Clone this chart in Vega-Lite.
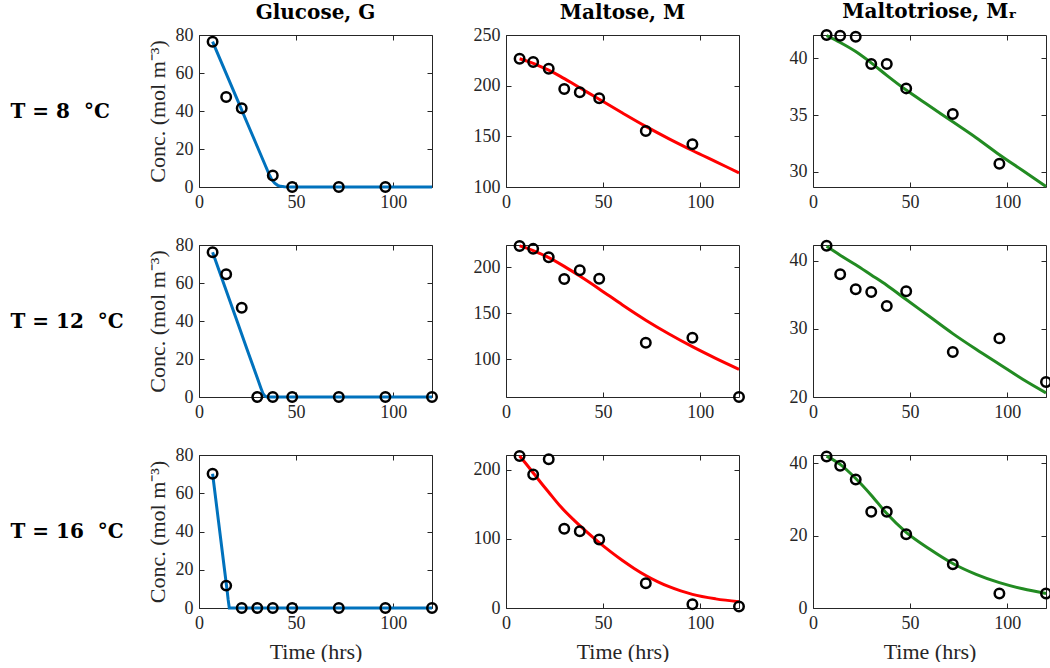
{
"$schema": "https://vega.github.io/schema/vega-lite/v6.json",
"padding": {"left": 10, "top": 2, "right": 0, "bottom": 0},
"background": "white",
"datasets": {
"curves": [
{"T":8,"s":"G","t":7,"c":76.5},{"T":8,"s":"G","t":10,"c":69.3},{"T":8,"s":"G","t":15,"c":57.3},{"T":8,"s":"G","t":20,"c":45.3},{"T":8,"s":"G","t":25,"c":33.3},{"T":8,"s":"G","t":30,"c":21.3},{"T":8,"s":"G","t":34,"c":11.7},{"T":8,"s":"G","t":36,"c":6.9},{"T":8,"s":"G","t":37.5,"c":3.9},{"T":8,"s":"G","t":39,"c":2.0},{"T":8,"s":"G","t":40.5,"c":0.9},{"T":8,"s":"G","t":42,"c":0.35},{"T":8,"s":"G","t":44,"c":0.1},{"T":8,"s":"G","t":47,"c":0},{"T":8,"s":"G","t":120,"c":0},
{"T":12,"s":"G","t":7,"c":76.2},{"T":12,"s":"G","t":15,"c":53.2},{"T":12,"s":"G","t":20,"c":38.8},{"T":12,"s":"G","t":25,"c":24.4},{"T":12,"s":"G","t":30,"c":10.1},{"T":12,"s":"G","t":32,"c":4.4},{"T":12,"s":"G","t":33,"c":1.7},{"T":12,"s":"G","t":34,"c":0.4},{"T":12,"s":"G","t":35,"c":0},{"T":12,"s":"G","t":120,"c":0},
{"T":16,"s":"G","t":7,"c":70.2},{"T":16,"s":"G","t":10,"c":45.7},{"T":16,"s":"G","t":13,"c":21.2},{"T":16,"s":"G","t":14.5,"c":9},{"T":16,"s":"G","t":15,"c":4.5},{"T":16,"s":"G","t":15.6,"c":0},{"T":16,"s":"G","t":120,"c":0},
{"T":8,"s":"M","t":7,"c":226.6},{"T":8,"s":"M","t":12,"c":223.4},{"T":8,"s":"M","t":17,"c":219.6},{"T":8,"s":"M","t":22,"c":215.3},{"T":8,"s":"M","t":28,"c":209.2},{"T":8,"s":"M","t":35,"c":201.4},{"T":8,"s":"M","t":42,"c":193.4},{"T":8,"s":"M","t":48,"c":186.6},{"T":8,"s":"M","t":60,"c":173},{"T":8,"s":"M","t":72,"c":159.8},{"T":8,"s":"M","t":84,"c":147.5},{"T":8,"s":"M","t":96,"c":136},{"T":8,"s":"M","t":108,"c":125},{"T":8,"s":"M","t":120,"c":114},
{"T":12,"s":"M","t":7,"c":223.2},{"T":12,"s":"M","t":14,"c":218.2},{"T":12,"s":"M","t":22,"c":210.5},{"T":12,"s":"M","t":30,"c":201},{"T":12,"s":"M","t":38,"c":190.5},{"T":12,"s":"M","t":48,"c":176.5},{"T":12,"s":"M","t":60,"c":159},{"T":12,"s":"M","t":72,"c":142.5},{"T":12,"s":"M","t":84,"c":127.5},{"T":12,"s":"M","t":96,"c":113.7},{"T":12,"s":"M","t":108,"c":101},{"T":12,"s":"M","t":120,"c":89.1},
{"T":16,"s":"M","t":7,"c":219.7},{"T":16,"s":"M","t":10,"c":209.5},{"T":16,"s":"M","t":14.5,"c":193.5},{"T":16,"s":"M","t":18,"c":181},{"T":16,"s":"M","t":22,"c":167.2},{"T":16,"s":"M","t":28,"c":146.8},{"T":16,"s":"M","t":35,"c":126.9},{"T":16,"s":"M","t":41,"c":111.3},{"T":16,"s":"M","t":48,"c":94.4},{"T":16,"s":"M","t":54,"c":81.1},{"T":16,"s":"M","t":60,"c":68.6},{"T":16,"s":"M","t":66,"c":57.2},{"T":16,"s":"M","t":72,"c":47},{"T":16,"s":"M","t":78,"c":38.2},{"T":16,"s":"M","t":84,"c":30.8},{"T":16,"s":"M","t":90,"c":24.7},{"T":16,"s":"M","t":96,"c":19.7},{"T":16,"s":"M","t":108,"c":13.2},{"T":16,"s":"M","t":120,"c":9},
{"T":8,"s":"Mr","t":7,"c":42.0},{"T":8,"s":"Mr","t":14,"c":41.4},{"T":8,"s":"Mr","t":22,"c":40.6},{"T":8,"s":"Mr","t":30,"c":39.6},{"T":8,"s":"Mr","t":38,"c":38.5},{"T":8,"s":"Mr","t":48,"c":37.2},{"T":8,"s":"Mr","t":60,"c":35.8},{"T":8,"s":"Mr","t":72,"c":34.4},{"T":8,"s":"Mr","t":84,"c":33.0},{"T":8,"s":"Mr","t":96,"c":31.5},{"T":8,"s":"Mr","t":108,"c":30.1},{"T":8,"s":"Mr","t":120,"c":28.7},
{"T":12,"s":"Mr","t":7,"c":42.1},{"T":12,"s":"Mr","t":14,"c":40.8},{"T":12,"s":"Mr","t":22,"c":39.4},{"T":12,"s":"Mr","t":30,"c":37.9},{"T":12,"s":"Mr","t":38,"c":36.4},{"T":12,"s":"Mr","t":48,"c":34.3},{"T":12,"s":"Mr","t":60,"c":31.8},{"T":12,"s":"Mr","t":72,"c":29.3},{"T":12,"s":"Mr","t":84,"c":27.0},{"T":12,"s":"Mr","t":96,"c":24.8},{"T":12,"s":"Mr","t":108,"c":22.6},{"T":12,"s":"Mr","t":120,"c":20.6},
{"T":16,"s":"Mr","t":7,"c":42},{"T":16,"s":"Mr","t":14,"c":39.7},{"T":16,"s":"Mr","t":22,"c":35.8},{"T":16,"s":"Mr","t":30,"c":31.2},{"T":16,"s":"Mr","t":38,"c":26.1},{"T":16,"s":"Mr","t":48,"c":20.9},{"T":16,"s":"Mr","t":60,"c":16.3},{"T":16,"s":"Mr","t":72,"c":12.3},{"T":16,"s":"Mr","t":84,"c":9.3},{"T":16,"s":"Mr","t":96,"c":7.0},{"T":16,"s":"Mr","t":108,"c":5.3},{"T":16,"s":"Mr","t":120,"c":4.0}
],
"obs": [
{"T":8,"s":"G","t":7,"c":76.5},{"T":8,"s":"G","t":14,"c":47.4},{"T":8,"s":"G","t":22,"c":41.4},{"T":8,"s":"G","t":38,"c":6},{"T":8,"s":"G","t":48,"c":0},{"T":8,"s":"G","t":72,"c":0},{"T":8,"s":"G","t":96,"c":0},
{"T":8,"s":"M","t":7,"c":226.6},{"T":8,"s":"M","t":14,"c":223.4},{"T":8,"s":"M","t":22,"c":216.7},{"T":8,"s":"M","t":30,"c":196.7},{"T":8,"s":"M","t":38,"c":193.4},{"T":8,"s":"M","t":48,"c":187.5},{"T":8,"s":"M","t":72,"c":155.2},{"T":8,"s":"M","t":96,"c":142.1},
{"T":8,"s":"Mr","t":7,"c":42.06},{"T":8,"s":"Mr","t":14,"c":42.0},{"T":8,"s":"Mr","t":22,"c":41.9},{"T":8,"s":"Mr","t":30,"c":39.5},{"T":8,"s":"Mr","t":38,"c":39.5},{"T":8,"s":"Mr","t":48,"c":37.35},{"T":8,"s":"Mr","t":72,"c":35.1},{"T":8,"s":"Mr","t":96,"c":30.7},
{"T":12,"s":"G","t":7,"c":76.2},{"T":12,"s":"G","t":14,"c":64.6},{"T":12,"s":"G","t":22,"c":47.0},{"T":12,"s":"G","t":30,"c":0},{"T":12,"s":"G","t":38,"c":0},{"T":12,"s":"G","t":48,"c":0},{"T":12,"s":"G","t":72,"c":0},{"T":12,"s":"G","t":96,"c":0},{"T":12,"s":"G","t":120,"c":0},
{"T":12,"s":"M","t":7,"c":223.2},{"T":12,"s":"M","t":14,"c":220},{"T":12,"s":"M","t":22,"c":210.9},{"T":12,"s":"M","t":30,"c":187.3},{"T":12,"s":"M","t":38,"c":196.7},{"T":12,"s":"M","t":48,"c":187.6},{"T":12,"s":"M","t":72,"c":118},{"T":12,"s":"M","t":96,"c":123.5},{"T":12,"s":"M","t":120,"c":59},
{"T":12,"s":"Mr","t":7,"c":42.2},{"T":12,"s":"Mr","t":14,"c":38.0},{"T":12,"s":"Mr","t":22,"c":35.8},{"T":12,"s":"Mr","t":30,"c":35.4},{"T":12,"s":"Mr","t":38,"c":33.35},{"T":12,"s":"Mr","t":48,"c":35.5},{"T":12,"s":"Mr","t":72,"c":26.6},{"T":12,"s":"Mr","t":96,"c":28.6},{"T":12,"s":"Mr","t":120,"c":22.2},
{"T":16,"s":"G","t":7,"c":70.2},{"T":16,"s":"G","t":14,"c":11.7},{"T":16,"s":"G","t":22,"c":0},{"T":16,"s":"G","t":30,"c":0},{"T":16,"s":"G","t":38,"c":0},{"T":16,"s":"G","t":48,"c":0},{"T":16,"s":"G","t":72,"c":0},{"T":16,"s":"G","t":96,"c":0},{"T":16,"s":"G","t":120,"c":0},
{"T":16,"s":"M","t":7,"c":219.7},{"T":16,"s":"M","t":14,"c":192.8},{"T":16,"s":"M","t":22,"c":214.9},{"T":16,"s":"M","t":30,"c":114.5},{"T":16,"s":"M","t":38,"c":111},{"T":16,"s":"M","t":48,"c":99},{"T":16,"s":"M","t":72,"c":35.7},{"T":16,"s":"M","t":96,"c":5.3},{"T":16,"s":"M","t":120,"c":2.3},
{"T":16,"s":"Mr","t":7,"c":41.9},{"T":16,"s":"Mr","t":14,"c":39.3},{"T":16,"s":"Mr","t":22,"c":35.5},{"T":16,"s":"Mr","t":30,"c":26.6},{"T":16,"s":"Mr","t":38,"c":26.6},{"T":16,"s":"Mr","t":48,"c":20.4},{"T":16,"s":"Mr","t":72,"c":12.1},{"T":16,"s":"Mr","t":96,"c":4.0},{"T":16,"s":"Mr","t":120,"c":4.0}
]
},
"bounds": "flush",
"columns": 3,
"spacing": {"row": 58, "column": 74},
"concat": [
 {"width": 233, "height": 152,
  "title": {"text": "Glucose, G"},
  "layer": [
   {"data": {"name": "curves"}, "transform": [{"filter": "datum.T == 8 && datum.s == 'G'"}],
    "mark": {"type": "line", "color": "#0072BD", "strokeWidth": 3, "interpolate": "linear"},
    "encoding": {
     "x": {"field": "t", "type": "quantitative", "scale": {"domain": [0, 120], "nice": false}, "axis": {"values": [0, 50, 100], "title": null}},
     "y": {"field": "c", "type": "quantitative", "scale": {"domain": [0, 80], "nice": false, "zero": false}, "axis": {"values": [0, 20, 40, 60, 80], "title": "Conc. (mol m⁻³)"}}}},
   {"data": {"name": "obs"}, "transform": [{"filter": "datum.T == 8 && datum.s == 'G'"}],
    "mark": {"type": "point", "shape": "circle", "filled": false, "stroke": "black", "strokeWidth": 2.5, "size": 90, "opacity": 1},
    "encoding": {
     "x": {"field": "t", "type": "quantitative", "scale": {"domain": [0, 120], "nice": false}, "axis": {"orient": "top", "values": [0, 50, 100], "labels": false, "title": "T\u00a0=\u00a08\u00a0\u00a0°C", "titleAngle": 0, "titleX": -189, "titleY": 76, "titleAlign": "left", "titleBaseline": "middle", "titleFont": "DejaVu Serif", "titleFontWeight": "bold", "titleFontSize": 20, "titleColor": "black"}},
     "y": {"field": "c", "type": "quantitative", "scale": {"domain": [0, 80], "nice": false, "zero": false}, "axis": {"orient": "right", "values": [0, 20, 40, 60, 80], "labels": false, "title": null}}}}
  ],
  "resolve": {"axis": {"x": "independent", "y": "independent"}}},
 {"width": 233, "height": 152,
  "title": {"text": "Maltose, M"},
  "layer": [
   {"data": {"name": "curves"}, "transform": [{"filter": "datum.T == 8 && datum.s == 'M'"}],
    "mark": {"type": "line", "color": "#FF0000", "strokeWidth": 3, "interpolate": "monotone"},
    "encoding": {
     "x": {"field": "t", "type": "quantitative", "scale": {"domain": [0, 120], "nice": false}, "axis": {"values": [0, 50, 100], "title": null}},
     "y": {"field": "c", "type": "quantitative", "scale": {"domain": [100, 250], "nice": false, "zero": false}, "axis": {"values": [100, 150, 200, 250], "title": null}}}},
   {"data": {"name": "obs"}, "transform": [{"filter": "datum.T == 8 && datum.s == 'M'"}],
    "mark": {"type": "point", "shape": "circle", "filled": false, "stroke": "black", "strokeWidth": 2.5, "size": 90, "opacity": 1},
    "encoding": {
     "x": {"field": "t", "type": "quantitative", "scale": {"domain": [0, 120], "nice": false}, "axis": {"orient": "top", "values": [0, 50, 100], "labels": false, "title": null}},
     "y": {"field": "c", "type": "quantitative", "scale": {"domain": [100, 250], "nice": false, "zero": false}, "axis": {"orient": "right", "values": [100, 150, 200, 250], "labels": false, "title": null}}}}
  ],
  "resolve": {"axis": {"x": "independent", "y": "independent"}}},
 {"width": 233, "height": 152,
  "title": {"text": "Maltotriose, Mᵣ"},
  "layer": [
   {"data": {"name": "curves"}, "transform": [{"filter": "datum.T == 8 && datum.s == 'Mr'"}],
    "mark": {"type": "line", "color": "#228B22", "strokeWidth": 3, "interpolate": "monotone"},
    "encoding": {
     "x": {"field": "t", "type": "quantitative", "scale": {"domain": [0, 120], "nice": false}, "axis": {"values": [0, 50, 100], "title": null}},
     "y": {"field": "c", "type": "quantitative", "scale": {"domain": [28.65, 42.06], "nice": false, "zero": false}, "axis": {"values": [30, 35, 40], "title": null}}}},
   {"data": {"name": "obs"}, "transform": [{"filter": "datum.T == 8 && datum.s == 'Mr'"}],
    "mark": {"type": "point", "shape": "circle", "filled": false, "stroke": "black", "strokeWidth": 2.5, "size": 90, "opacity": 1},
    "encoding": {
     "x": {"field": "t", "type": "quantitative", "scale": {"domain": [0, 120], "nice": false}, "axis": {"orient": "top", "values": [0, 50, 100], "labels": false, "title": null}},
     "y": {"field": "c", "type": "quantitative", "scale": {"domain": [28.65, 42.06], "nice": false, "zero": false}, "axis": {"orient": "right", "values": [30, 35, 40], "labels": false, "title": null}}}}
  ],
  "resolve": {"axis": {"x": "independent", "y": "independent"}}},
 {"width": 233, "height": 152,
  "layer": [
   {"data": {"name": "curves"}, "transform": [{"filter": "datum.T == 12 && datum.s == 'G'"}],
    "mark": {"type": "line", "color": "#0072BD", "strokeWidth": 3, "interpolate": "linear"},
    "encoding": {
     "x": {"field": "t", "type": "quantitative", "scale": {"domain": [0, 120], "nice": false}, "axis": {"values": [0, 50, 100], "title": null}},
     "y": {"field": "c", "type": "quantitative", "scale": {"domain": [0, 80], "nice": false, "zero": false}, "axis": {"values": [0, 20, 40, 60, 80], "title": "Conc. (mol m⁻³)"}}}},
   {"data": {"name": "obs"}, "transform": [{"filter": "datum.T == 12 && datum.s == 'G'"}],
    "mark": {"type": "point", "shape": "circle", "filled": false, "stroke": "black", "strokeWidth": 2.5, "size": 90, "opacity": 1},
    "encoding": {
     "x": {"field": "t", "type": "quantitative", "scale": {"domain": [0, 120], "nice": false}, "axis": {"orient": "top", "values": [0, 50, 100], "labels": false, "title": "T\u00a0=\u00a012\u00a0\u00a0°C", "titleAngle": 0, "titleX": -189, "titleY": 76, "titleAlign": "left", "titleBaseline": "middle", "titleFont": "DejaVu Serif", "titleFontWeight": "bold", "titleFontSize": 20, "titleColor": "black"}},
     "y": {"field": "c", "type": "quantitative", "scale": {"domain": [0, 80], "nice": false, "zero": false}, "axis": {"orient": "right", "values": [0, 20, 40, 60, 80], "labels": false, "title": null}}}}
  ],
  "resolve": {"axis": {"x": "independent", "y": "independent"}}},
 {"width": 233, "height": 152,
  "layer": [
   {"data": {"name": "curves"}, "transform": [{"filter": "datum.T == 12 && datum.s == 'M'"}],
    "mark": {"type": "line", "color": "#FF0000", "strokeWidth": 3, "interpolate": "monotone"},
    "encoding": {
     "x": {"field": "t", "type": "quantitative", "scale": {"domain": [0, 120], "nice": false}, "axis": {"values": [0, 50, 100], "title": null}},
     "y": {"field": "c", "type": "quantitative", "scale": {"domain": [59, 224.2], "nice": false, "zero": false}, "axis": {"values": [100, 150, 200], "title": null}}}},
   {"data": {"name": "obs"}, "transform": [{"filter": "datum.T == 12 && datum.s == 'M'"}],
    "mark": {"type": "point", "shape": "circle", "filled": false, "stroke": "black", "strokeWidth": 2.5, "size": 90, "opacity": 1},
    "encoding": {
     "x": {"field": "t", "type": "quantitative", "scale": {"domain": [0, 120], "nice": false}, "axis": {"orient": "top", "values": [0, 50, 100], "labels": false, "title": null}},
     "y": {"field": "c", "type": "quantitative", "scale": {"domain": [59, 224.2], "nice": false, "zero": false}, "axis": {"orient": "right", "values": [100, 150, 200], "labels": false, "title": null}}}}
  ],
  "resolve": {"axis": {"x": "independent", "y": "independent"}}},
 {"width": 233, "height": 152,
  "layer": [
   {"data": {"name": "curves"}, "transform": [{"filter": "datum.T == 12 && datum.s == 'Mr'"}],
    "mark": {"type": "line", "color": "#228B22", "strokeWidth": 3, "interpolate": "monotone"},
    "encoding": {
     "x": {"field": "t", "type": "quantitative", "scale": {"domain": [0, 120], "nice": false}, "axis": {"values": [0, 50, 100], "title": null}},
     "y": {"field": "c", "type": "quantitative", "scale": {"domain": [20, 42.3], "nice": false, "zero": false}, "axis": {"values": [20, 30, 40], "title": null}}}},
   {"data": {"name": "obs"}, "transform": [{"filter": "datum.T == 12 && datum.s == 'Mr'"}],
    "mark": {"type": "point", "shape": "circle", "filled": false, "stroke": "black", "strokeWidth": 2.5, "size": 90, "opacity": 1},
    "encoding": {
     "x": {"field": "t", "type": "quantitative", "scale": {"domain": [0, 120], "nice": false}, "axis": {"orient": "top", "values": [0, 50, 100], "labels": false, "title": null}},
     "y": {"field": "c", "type": "quantitative", "scale": {"domain": [20, 42.3], "nice": false, "zero": false}, "axis": {"orient": "right", "values": [20, 30, 40], "labels": false, "title": null}}}}
  ],
  "resolve": {"axis": {"x": "independent", "y": "independent"}}},
 {"width": 233, "height": 153,
  "layer": [
   {"data": {"name": "curves"}, "transform": [{"filter": "datum.T == 16 && datum.s == 'G'"}],
    "mark": {"type": "line", "color": "#0072BD", "strokeWidth": 3, "interpolate": "linear"},
    "encoding": {
     "x": {"field": "t", "type": "quantitative", "scale": {"domain": [0, 120], "nice": false}, "axis": {"values": [0, 50, 100], "title": "Time (hrs)", "titlePadding": 9}},
     "y": {"field": "c", "type": "quantitative", "scale": {"domain": [0, 80], "nice": false, "zero": false}, "axis": {"values": [0, 20, 40, 60, 80], "title": "Conc. (mol m⁻³)"}}}},
   {"data": {"name": "obs"}, "transform": [{"filter": "datum.T == 16 && datum.s == 'G'"}],
    "mark": {"type": "point", "shape": "circle", "filled": false, "stroke": "black", "strokeWidth": 2.5, "size": 90, "opacity": 1},
    "encoding": {
     "x": {"field": "t", "type": "quantitative", "scale": {"domain": [0, 120], "nice": false}, "axis": {"orient": "top", "values": [0, 50, 100], "labels": false, "title": "T\u00a0=\u00a016\u00a0\u00a0°C", "titleAngle": 0, "titleX": -189, "titleY": 76, "titleAlign": "left", "titleBaseline": "middle", "titleFont": "DejaVu Serif", "titleFontWeight": "bold", "titleFontSize": 20, "titleColor": "black"}},
     "y": {"field": "c", "type": "quantitative", "scale": {"domain": [0, 80], "nice": false, "zero": false}, "axis": {"orient": "right", "values": [0, 20, 40, 60, 80], "labels": false, "title": null}}}}
  ],
  "resolve": {"axis": {"x": "independent", "y": "independent"}}},
 {"width": 233, "height": 153,
  "layer": [
   {"data": {"name": "curves"}, "transform": [{"filter": "datum.T == 16 && datum.s == 'M'"}],
    "mark": {"type": "line", "color": "#FF0000", "strokeWidth": 3, "interpolate": "monotone"},
    "encoding": {
     "x": {"field": "t", "type": "quantitative", "scale": {"domain": [0, 120], "nice": false}, "axis": {"values": [0, 50, 100], "title": "Time (hrs)", "titlePadding": 9}},
     "y": {"field": "c", "type": "quantitative", "scale": {"domain": [0, 221], "nice": false, "zero": false}, "axis": {"values": [0, 100, 200], "title": null}}}},
   {"data": {"name": "obs"}, "transform": [{"filter": "datum.T == 16 && datum.s == 'M'"}],
    "mark": {"type": "point", "shape": "circle", "filled": false, "stroke": "black", "strokeWidth": 2.5, "size": 90, "opacity": 1},
    "encoding": {
     "x": {"field": "t", "type": "quantitative", "scale": {"domain": [0, 120], "nice": false}, "axis": {"orient": "top", "values": [0, 50, 100], "labels": false, "title": null}},
     "y": {"field": "c", "type": "quantitative", "scale": {"domain": [0, 221], "nice": false, "zero": false}, "axis": {"orient": "right", "values": [0, 100, 200], "labels": false, "title": null}}}}
  ],
  "resolve": {"axis": {"x": "independent", "y": "independent"}}},
 {"width": 233, "height": 153,
  "layer": [
   {"data": {"name": "curves"}, "transform": [{"filter": "datum.T == 16 && datum.s == 'Mr'"}],
    "mark": {"type": "line", "color": "#228B22", "strokeWidth": 3, "interpolate": "monotone"},
    "encoding": {
     "x": {"field": "t", "type": "quantitative", "scale": {"domain": [0, 120], "nice": false}, "axis": {"values": [0, 50, 100], "title": "Time (hrs)", "titlePadding": 9}},
     "y": {"field": "c", "type": "quantitative", "scale": {"domain": [0, 42.3], "nice": false, "zero": false}, "axis": {"values": [0, 20, 40], "title": null}}}},
   {"data": {"name": "obs"}, "transform": [{"filter": "datum.T == 16 && datum.s == 'Mr'"}],
    "mark": {"type": "point", "shape": "circle", "filled": false, "stroke": "black", "strokeWidth": 2.5, "size": 90, "opacity": 1},
    "encoding": {
     "x": {"field": "t", "type": "quantitative", "scale": {"domain": [0, 120], "nice": false}, "axis": {"orient": "top", "values": [0, 50, 100], "labels": false, "title": null}},
     "y": {"field": "c", "type": "quantitative", "scale": {"domain": [0, 42.3], "nice": false, "zero": false}, "axis": {"orient": "right", "values": [0, 20, 40], "labels": false, "title": null}}}}
  ],
  "resolve": {"axis": {"x": "independent", "y": "independent"}}}
],
"config": {
 "view": {"stroke": null},
 "axis": {"grid": false, "domainColor": "#262626", "domainWidth": 1, "tickColor": "#262626", "tickSize": -5, "tickWidth": 1, "labelFont": "Liberation Serif", "labelFontSize": 18, "labelColor": "#262626", "labelPadding": 11, "labelFlush": false, "labelOverlap": false, "titleFont": "Liberation Serif", "titleFontSize": 22, "titleFontWeight": "normal", "titleColor": "#262626", "titlePadding": 6},
 "title": {"font": "DejaVu Serif", "fontWeight": "bold", "fontSize": 20, "color": "black", "frame": "group", "anchor": "middle", "baseline": "alphabetic", "offset": 3}
}
}
